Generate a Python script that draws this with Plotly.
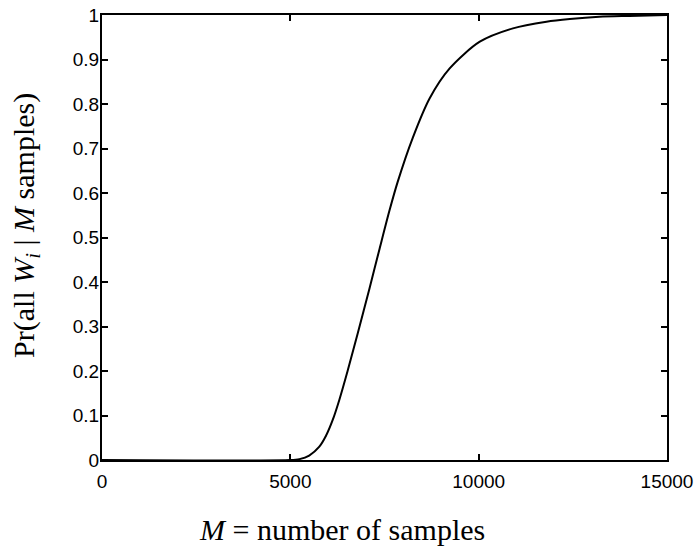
import plotly.graph_objects as go

M_values = [0, 5000, 5240, 5500, 5770, 5950, 6125, 6300, 6520, 6790, 7100, 7370,
            7630, 7850, 8250, 8700, 9230, 10030, 10910, 11800, 12420, 13200, 14000, 15000]
prob_values = [0, 0, 0.002, 0.010, 0.030, 0.055, 0.090, 0.135, 0.200, 0.285, 0.385, 0.475,
               0.560, 0.625, 0.724, 0.813, 0.880, 0.940, 0.970, 0.985, 0.991, 0.996, 0.998, 1.0]

x_ticks = [0, 5000, 10000, 15000]
y_ticks = [0, 0.1, 0.2, 0.3, 0.4, 0.5, 0.6, 0.7, 0.8, 0.9, 1]
y_tick_labels = ["0", "0.1", "0.2", "0.3", "0.4", "0.5", "0.6", "0.7", "0.8", "0.9", "1"]

x_title = "<i>M</i> = number of samples"
y_title = "Pr(all <i>W<sub>i</sub></i> | <i>M</i> samples)"

fig = go.Figure()
fig.add_trace(go.Scatter(
    x=M_values, y=prob_values, mode="lines",
    line=dict(color="black", width=2, shape="spline", smoothing=0.8),
    showlegend=False, hoverinfo="skip"))

axis_common = dict(
    showline=True, linecolor="black", linewidth=2, mirror="ticks",
    ticks="inside", ticklen=6, tickwidth=1.5, tickcolor="black",
    showgrid=False, zeroline=False, automargin=False,
    ticklabeloverflow="allow",
    tickfont=dict(family="Liberation Sans, Arial, sans-serif", size=19, color="black"),
)

fig.update_xaxes(range=[0, 15000], tickvals=x_ticks, ticktext=[str(v) for v in x_ticks],
                 ticklabelstandoff=3, **axis_common)
fig.update_yaxes(range=[0, 1], tickvals=y_ticks, ticktext=y_tick_labels,
                 ticklabelstandoff=-3, **axis_common)

title_font = dict(family="Liberation Serif, Times New Roman, serif", color="black")
fig.add_annotation(text=x_title, xref="paper", yref="paper", x=0.4255, y=-0.157,
                   xanchor="center", yanchor="middle", showarrow=False,
                   font=dict(size=30, **title_font))
fig.add_annotation(text=y_title, xref="paper", yref="paper", x=-0.1345, y=0.526,
                   xanchor="center", yanchor="middle", showarrow=False, textangle=-90,
                   font=dict(size=30, **title_font))

fig.update_layout(
    width=697, height=550,
    margin=dict(l=102, r=30, t=15, b=90),
    paper_bgcolor="white", plot_bgcolor="white",
)

# remove the default page margin so the 697x550 figure fills the window exactly
fig.write_html("out.html", config={"displayModeBar": False},
               post_script="document.body.style.margin='0';")
